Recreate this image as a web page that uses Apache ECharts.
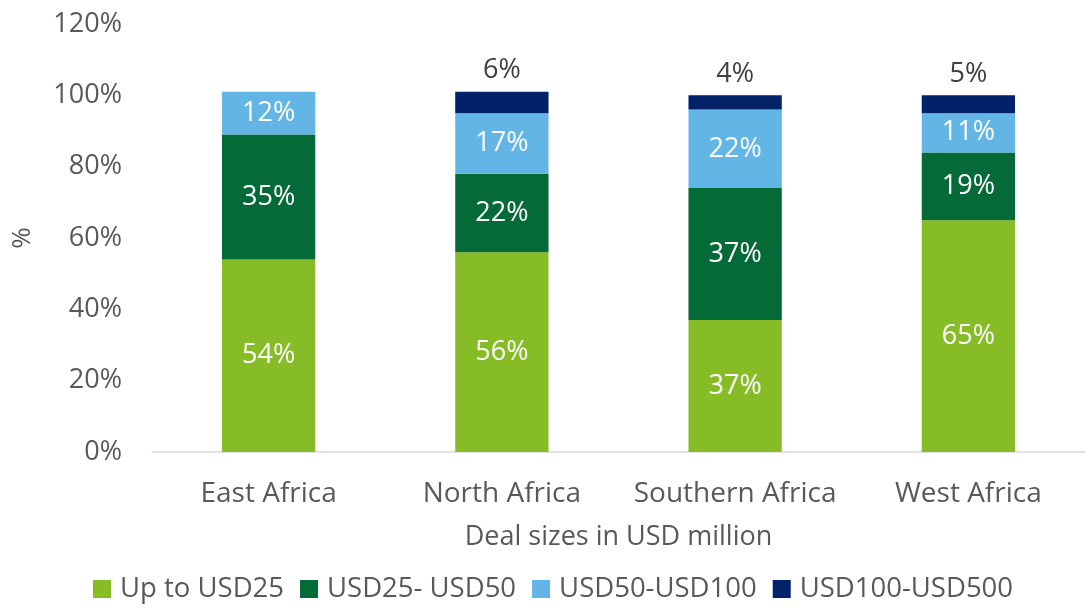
<!DOCTYPE html>
<html><head><meta charset="utf-8">
<script src="https://cdn.jsdelivr.net/npm/echarts@6/dist/echarts.min.js"></script>
<style>html,body{margin:0;padding:0;background:#fff}#c{width:1089px;height:612px}</style>
</head><body><div id="c"></div>
<script>
const categories = ['East Africa', 'North Africa', 'Southern Africa', 'West Africa'];
const seriesNames = ['Up to USD25', 'USD25- USD50', 'USD50-USD100', 'USD100-USD500'];
const upTo25 = [54, 56, 37, 65];
const usd25to50 = [35, 22, 37, 19];
const usd50to100 = [12, 17, 22, 11];
const usd100to500 = [0, 6, 4, 5];
const yTicks = [0, 20, 40, 60, 80, 100, 120];
const colors = ['#86BC25', '#046A38', '#62B5E5', '#012169'];
const FONT = 'Open Sans';
const values = [upTo25, usd25to50, usd50to100, usd100to500];

const chart = echarts.init(document.getElementById('c'), null, {renderer: 'canvas'});
const series = values.map((arr, i) => ({
  name: seriesNames[i],
  type: 'bar',
  stack: 'total',
  barWidth: '40%',
  data: arr.map(v => v === 0 ? null : v),
  itemStyle: {color: colors[i]},
  label: {
    show: true,
    position: i === 3 ? 'top' : 'inside',
    distance: 8,
    color: i === 3 ? '#404040' : '#ffffff',
    fontFamily: FONT,
    fontSize: 27,
    formatter: p => p.value + '%'
  },
  emphasis: {disabled: true}
}));
chart.setOption({
  animation: false,
  textStyle: {fontFamily: FONT},
  grid: {left: 152, right: 4, top: 24, bottom: 160, outerBoundsMode: 'none', containLabel: false},
  legend: {
    bottom: 4,
    left: 88,
    itemWidth: 18,
    itemHeight: 18,
    itemGap: 16,
    icon: 'rect',
    textStyle: {fontFamily: FONT, fontSize: 27.5, color: '#595959', padding: [0, 0, 0, 4]},
    data: seriesNames
  },
  xAxis: {
    type: 'category',
    data: categories,
    name: 'Deal sizes in USD million',
    nameLocation: 'middle',
    nameGap: 72,
    nameTextStyle: {fontFamily: FONT, fontSize: 27, color: '#595959'},
    axisLine: {lineStyle: {color: '#d9d9d9', width: 1.5}},
    axisTick: {show: false},
    axisLabel: {fontFamily: FONT, fontSize: 28, color: '#595959', margin: 28, interval: 0}
  },
  yAxis: {
    type: 'value',
    min: 0, max: 120, interval: 20,
    name: '%',
    nameLocation: 'middle',
    nameGap: 116,
    nameRotate: 90,
    nameTextStyle: {fontFamily: FONT, fontSize: 26, color: '#595959'},
    axisLine: {show: false},
    axisTick: {show: false},
    splitLine: {show: false},
    axisLabel: {fontFamily: FONT, fontSize: 27, color: '#595959', margin: 30,
      formatter: v => yTicks.includes(v) ? v + '%' : ''}
  },
  series: series
});
</script></body></html>
